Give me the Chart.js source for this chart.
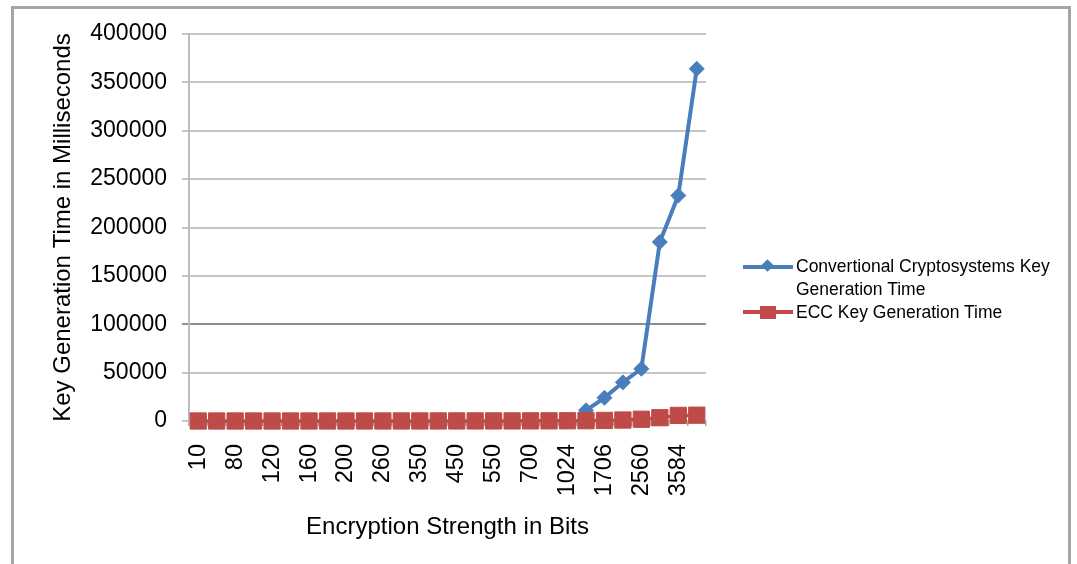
<!DOCTYPE html>
<html>
<head>
<meta charset="utf-8">
<script src="https://cdn.jsdelivr.net/npm/chart.js@4"></script>
<style>
  html, body { margin: 0; padding: 0; background: #fff; overflow: hidden; }
  #wrap { position: relative; width: 1077px; height: 564px; }
  #frame { position: absolute; left: 11px; top: 6px; width: 1054px; height: 700px; border: 3px solid #a5a5a5; }
  #chartBox { position: absolute; left: 0; top: 0; width: 1077px; height: 564px; }
  .legend-item { position: absolute; left: 743px; font-family: 'Liberation Sans', Arial, sans-serif; font-size: 17.5px; line-height: 23px; color: #000; }
  .legend-item .sym { position: absolute; left: 0; width: 50px; height: 23px; }
  .legend-item .sym .ln { position: absolute; left: 0; top: 9.5px; width: 50px; height: 4px; }
  .legend-item .sym .mk { position: absolute; }
  .legend-item .txt { position: absolute; left: 53px; top: 0; width: 262px; }
</style>
</head>
<body>
<div id="wrap">
  <div id="frame"></div>
  <div id="chartBox"><canvas id="keyGenChart"></canvas></div>
  <div id="legend"></div>
</div>
<script>
// encryption strength (bits) - only every other one is labelled on the axis
const categories = ['10', '40', '80', '100', '120', '140', '160', '180', '200', '224',
  '260', '300', '350', '400', '450', '500', '550', '600', '700', '800',
  '1024', '1536', '1706', '2048', '2560', '3072', '3584', '4096'];

// key generation time in ms
const conventionalTimes = [null, null, null, null, null, null, null, null, null, null,
  null, null, null, null, null, null, null, null, null, null,
  null, 11000, 24000, 40000, 54000, 185000, 233000, 364000];
const eccTimes = [5, 8, 10, 12, 15, 18, 20, 25, 30, 35,
  40, 50, 60, 70, 80, 90, 100, 120, 150, 180,
  220, 300, 600, 1000, 1800, 3400, 5800, 6000];

const seriesNames = ['Convertional Cryptosystems Key Generation Time', 'ECC Key Generation Time'];
const yTickValues = [0, 50000, 100000, 150000, 200000, 250000, 300000, 350000, 400000];

const blue = '#4A7EBB';
const red = '#BE4B48';

Chart.defaults.font.family = "'Liberation Sans', Arial, sans-serif";
Chart.defaults.color = '#000';

const ctx = document.getElementById('keyGenChart').getContext('2d');

window.keyGenChart = new Chart(ctx, {
    type: 'line',
    data: {
        labels: categories,
        datasets: [{
            label: seriesNames[0],
            data: conventionalTimes,
            borderColor: blue,
            backgroundColor: blue,
            borderWidth: 4,
            pointStyle: 'rectRot',
            pointRadius: 7.5,
            pointBorderWidth: 1,
            tension: 0,
            clip: false,
            order: 1
        }, {
            label: seriesNames[1],
            data: eccTimes,
            borderColor: red,
            backgroundColor: red,
            borderWidth: 3.5,
            pointStyle: 'rect',
            pointRadius: 11.5,
            pointBorderWidth: 1,
            tension: 0,
            clip: false,
            order: 0
        }]
    },
    options: {
        responsive: true,
        maintainAspectRatio: false,
        animation: false,
        layout: { padding: { left: 0, top: 34, right: 371, bottom: 0 } },
        plugins: {
            legend: { display: false },
            tooltip: { enabled: false }
        },
        scales: {
            x: {
                offset: true,
                grid: { offset: true, drawOnChartArea: false, tickLength: 5, color: '#a8a8a8', lineWidth: 1.5 },
                border: { display: true, color: '#bdbdbd', width: 2 },
                ticks: {
                    autoSkip: false,
                    minRotation: 90,
                    maxRotation: 90,
                    padding: 18,
                    font: { size: 23.5 },
                    callback: (v, i) => i % 2 === 0 ? categories[i] : ''
                },
                title: {
                    display: true,
                    text: 'Encryption Strength in Bits',
                    font: { size: 24 },
                    padding: { top: 0, bottom: 22 }
                },
                afterFit: (s) => { s.height = 143; }
            },
            y: {
                min: 0,
                max: 400000,
                afterBuildTicks: (s) => { s.ticks = yTickValues.map(v => ({ value: v })); },
                grid: {
                    color: (c) => c.tick && c.tick.value === 100000 ? '#8e8e8e' : '#c6c6c6',
                    lineWidth: 2,
                    tickLength: 7
                },
                border: { display: true, color: '#bdbdbd', width: 2 },
                ticks: {
                    padding: 15,
                    font: { size: 23 },
                    callback: (v) => String(v)
                },
                title: {
                    display: true,
                    text: 'Key Generation Time in Milliseconds',
                    font: { size: 24 },
                    padding: { top: 49, bottom: 0 }
                },
                afterFit: (s) => { s.width = 189; }
            }
        }
    }
});

// legend on the right, line + marker like the original
const legendBox = document.getElementById('legend');
const legendRows = [
    { top: 255, color: blue, marker: 'diamond' },
    { top: 300.5, color: red, marker: 'square' }
];
legendRows.forEach((row, i) => {
    const item = document.createElement('div');
    item.className = 'legend-item';
    item.style.top = row.top + 'px';
    const mk = row.marker === 'diamond'
        ? '<div class="mk" style="left:20px;top:6px;width:9px;height:9px;transform:rotate(45deg);background:' + row.color + '"></div>'
        : '<div class="mk" style="left:17px;top:5px;width:16px;height:13px;background:' + row.color + '"></div>';
    item.innerHTML = '<div class="sym"><div class="ln" style="background:' + row.color + '"></div>' + mk + '</div>' +
        '<div class="txt">' + seriesNames[i] + '</div>';
    legendBox.appendChild(item);
});
</script>
</body>
</html>
